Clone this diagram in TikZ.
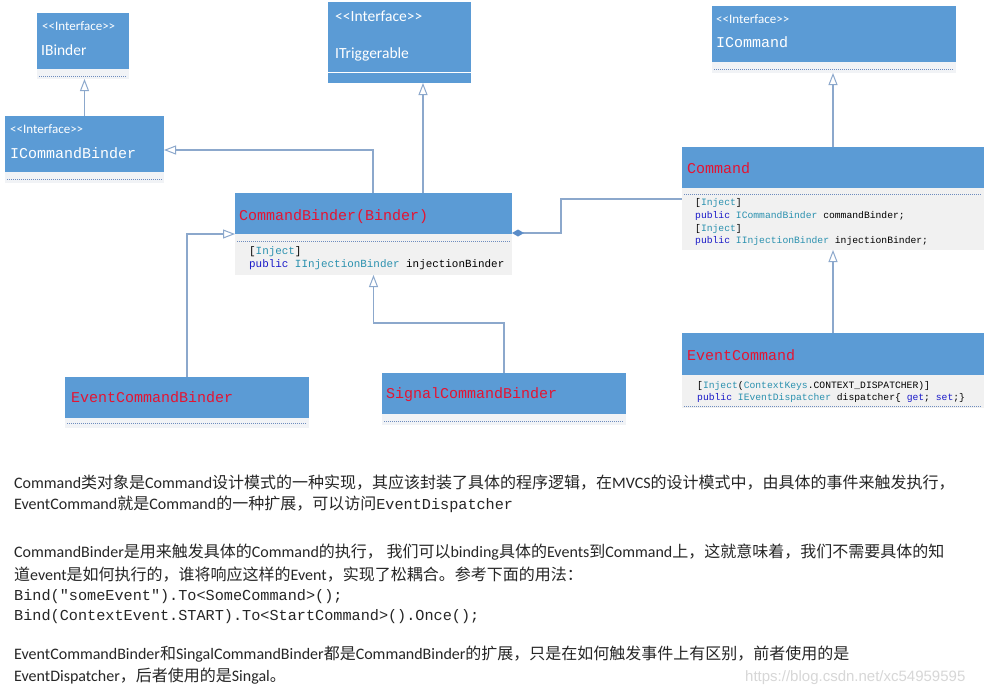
\documentclass[tikz,border=0pt]{standalone}
\usepackage{fontspec}
\setmainfont{Carlito}
\newfontfamily\cjk{Noto Sans CJK SC}
\newfontfamily\code{Liberation Mono}
\newfontfamily\wmfont{Liberation Sans}
\usetikzlibrary{arrows.meta}
\definecolor{hblue}{RGB}{91,155,213}
\definecolor{sgray}{RGB}{241,243,246}
\definecolor{cgray}{RGB}{241,241,241}
\definecolor{dotc}{RGB}{110,140,190}
\definecolor{lblue}{RGB}{140,168,204}
\definecolor{dblue}{RGB}{90,140,200}
\definecolor{cred}{RGB}{228,20,50}
\definecolor{kwblue}{RGB}{25,25,200}
\definecolor{tyteal}{RGB}{43,145,175}
\definecolor{wmgray}{RGB}{215,215,215}
\newcommand\ckw[1]{\textcolor{kwblue}{#1}}
\newcommand\cty[1]{\textcolor{tyteal}{#1}}
\newcommand\stereotxt{<\kern0pt<Interface>\kern0pt>}
\begin{document}
\begin{tikzpicture}[x=1pt,y=-1pt,
  hdr/.style={fill=hblue, draw=none, anchor=north west, inner sep=0, outer sep=0},
  strip/.style={fill=sgray, draw=none, anchor=north west, inner sep=0, outer sep=0},
  cstrip/.style={fill=cgray, draw=none, anchor=north west, inner sep=0, outer sep=0},
  dotl/.style={draw=dotc, line width=0.6pt, dash pattern=on 1pt off 1pt},
  conn/.style={draw=lblue, line width=1.4pt},
  inh/.style={conn, -{Triangle[length=12pt, width=9pt, fill=white, line width=1pt]}},
  agg/.style={conn, {Diamond[length=12pt, width=7pt, fill=dblue, color=dblue]}-},
  stereo/.style={text=white, inner sep=0, anchor=base west, font=\fontsize{13}{15}\selectfont},
  ititle/.style={text=white, inner sep=0, anchor=base west, font=\fontsize{15.5}{18}\selectfont},
  mtitle/.style={text=white, inner sep=0, anchor=base west, font=\code\fontsize{15}{18}\selectfont},
  ctitle/.style={text=cred, inner sep=0, anchor=base west, font=\code\fontsize{15}{18}\selectfont},
  codeS/.style={text=black, inner sep=0, anchor=base west, font=\code\fontsize{9.7}{12}\selectfont},
  codeM/.style={text=black, inner sep=0, anchor=base west, font=\code\fontsize{10.9}{13}\selectfont},
  para/.style={text=black!85, inner sep=0, anchor=base west, font=\fontsize{16}{18}\selectfont},
  paracode/.style={text=black!85, inner sep=0, anchor=base west, font=\code\fontsize{15.2}{18}\selectfont}
]
\useasboundingbox (0,0) rectangle (987,694);
\fill[white] (0,0) rectangle (987,694);

% IBinder
\node[hdr, minimum width=92pt, minimum height=56pt] (ibinder) at (37,13) {};
\node[strip, minimum width=92pt, minimum height=10pt] (ibinderS) at (37,69) {};
\draw[dotl] (39,76) -- (127,76);
\node[stereo] (ibinderST) at (42,30) {\stereotxt};
\node[ititle] (ibinderT) at (41,55) {IBinder};

% ITriggerable
\node[hdr, minimum width=143pt, minimum height=70pt] (itrig) at (328,2) {};
\node[hdr, minimum width=143pt, minimum height=10pt] (itrigS) at (328,73) {};
\node[stereo, font=\fontsize{15.5}{18}\selectfont] (itrigST) at (335,21) {\stereotxt};
\node[ititle] (itrigT) at (335,58) {ITriggerable};

% ICommand
\node[hdr, minimum width=244pt, minimum height=56pt] (icmd) at (712,6) {};
\node[strip, minimum width=244pt, minimum height=11pt] (icmdS) at (712,62) {};
\draw[dotl] (714,69) -- (954,69);
\node[stereo] (icmdST) at (716,23) {\stereotxt};
\node[mtitle] (icmdT) at (716,47.5) {ICommand};

% ICommandBinder
\node[hdr, minimum width=159pt, minimum height=56pt] (icb) at (5,116) {};
\node[strip, minimum width=159pt, minimum height=11pt] (icbS) at (5,172) {};
\draw[dotl] (7,179) -- (162,179);
\node[stereo] (icbST) at (10,133) {\stereotxt};
\node[mtitle] (icbT) at (10,158) {ICommandBinder};

% CommandBinder(Binder)
\node[hdr, minimum width=277pt, minimum height=41pt] (cb) at (235,193) {};
\node[cstrip, minimum width=277pt, minimum height=41pt] (cbS) at (235,234) {};
\draw[dotl] (237,241) -- (510,241);
\node[ctitle] (cbT) at (239,220) {CommandBinder(Binder)};
\node[codeM] (cbC1) at (249,254) {[\cty{Inject}]};
\node[codeM] (cbC2) at (249,267) {\ckw{public} \cty{IInjectionBinder} injectionBinder};

% Command
\node[hdr, minimum width=302pt, minimum height=41pt] (cmd) at (682,147) {};
\node[cstrip, minimum width=302pt, minimum height=62pt] (cmdS) at (682,188) {};
\draw[dotl] (684,194) -- (982,194);
\node[ctitle] (cmdT) at (687,173) {Command};
\node[codeS] (cmdC1) at (695,205) {[\cty{Inject}]};
\node[codeS] (cmdC2) at (695,218) {\ckw{public} \cty{ICommandBinder} commandBinder;};
\node[codeS] (cmdC3) at (695,231) {[\cty{Inject}]};
\node[codeS] (cmdC4) at (695,243) {\ckw{public} \cty{IInjectionBinder} injectionBinder;};

% EventCommand
\node[hdr, minimum width=302pt, minimum height=42pt] (ec) at (682,333) {};
\node[cstrip, minimum width=302pt, minimum height=33pt] (ecS) at (682,375) {};
\draw[dotl] (684,406) -- (982,406);
\node[ctitle] (ecT) at (687,360) {EventCommand};
\node[codeS] (ecC1) at (697,388) {[\cty{Inject}(\cty{ContextKeys}.CONTEXT\_DISPATCHER)]};
\node[codeS] (ecC2) at (697,400) {\ckw{public} \cty{IEventDispatcher} dispatcher\{ \ckw{get}; \ckw{set};\}};

% EventCommandBinder
\node[hdr, minimum width=244pt, minimum height=41pt] (ecb) at (65,377) {};
\node[strip, minimum width=244pt, minimum height=10pt] (ecbS) at (65,418) {};
\draw[dotl] (67,423) -- (307,423);
\node[ctitle] (ecbT) at (71,402) {EventCommandBinder};

% SignalCommandBinder
\node[hdr, minimum width=244pt, minimum height=41pt] (scb) at (382,373) {};
\node[strip, minimum width=244pt, minimum height=11pt] (scbS) at (382,414) {};
\draw[dotl] (384,421) -- (624,421);
\node[ctitle] (scbT) at (386,398) {SignalCommandBinder};

% connectors
\draw[inh] (icb.north) -- (icb.north |- ibinderS.south);
\draw[inh] ([xshift=-0.5pt]cb.north) |- ([yshift=-6pt]icb.east);
\draw[inh] ([xshift=49.5pt]cb.north) -- ([xshift=49.5pt]cb.north |- itrigS.south);
\draw[inh] (cmd.north) -- (cmd.north |- icmdS.south);
\draw[inh] (ec.north) -- (ec.north |- cmdS.south);
\draw[inh] (ecb.north) |- (cb.south west);
\draw[inh] (scb.north) -- ++(0,-50) -| (cbS.south);
\draw[agg] ([yshift=1pt]cb.south east) -- ++(49,0) |- ([yshift=20pt]cmdS.west);

% text
\node[para] (p1) at (14,488) {Command{\cjk 类对象是}Command{\cjk 设计模式的一种实现，其应该封装了具体的程序逻辑，在}MVCS{\cjk 的设计模式中，由具体的事件来触发执行，}};
\node[para] (p2) at (14,509) {EventCommand{\cjk 就是}Command{\cjk 的一种扩展，可以访问}{\code\fontsize{15.2}{18}\selectfont EventDispatcher}};
\node[para] (p3) at (14,557) {CommandBinder{\cjk 是用来触发具体的}Command{\cjk 的执行， 我们可以}binding{\cjk 具体的}Events{\cjk 到}Command{\cjk 上，这就意味着，我们不需要具体的知}};
\node[para] (p4) at (14,580) {{\cjk 道}event{\cjk 是如何执行的，谁将响应这样的}Event{\cjk ，实现了松耦合。参考下面的用法：}};
\node[paracode] (p5) at (14,600) {Bind("someEvent").To<SomeCommand>();};
\node[paracode] (p6) at (14,620) {Bind(ContextEvent.START).To<StartCommand>().Once();};
\node[para] (p7) at (14,659) {EventCommandBinder{\cjk 和}SingalCommandBinder{\cjk 都是}CommandBinder{\cjk 的扩展，只是在如何触发事件上有区别，前者使用的是}};
\node[para] (p8) at (14,681) {EventDispatcher{\cjk ，后者使用的是}Singal{\cjk 。}};
\node[inner sep=0, anchor=base west, text=wmgray, font=\wmfont\fontsize{15}{18}\selectfont] (wm) at (745,681) {https://blog.csdn.net/xc54959595};
\end{tikzpicture}
\end{document}
